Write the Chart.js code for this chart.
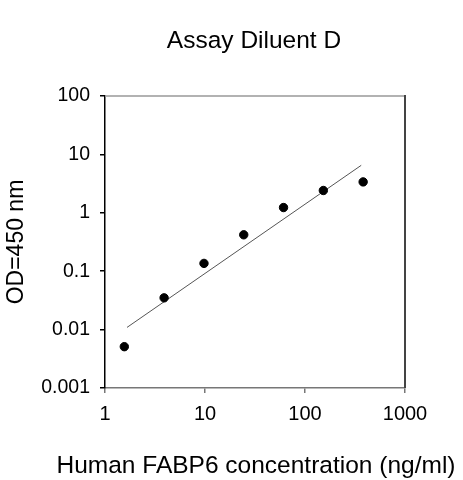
<!DOCTYPE html>
<html>
<head>
<meta charset="utf-8">
<script src="https://cdn.jsdelivr.net/npm/chart.js@4/dist/chart.umd.min.js"></script>
<style>
  html, body { margin: 0; padding: 0; background: #fff; }
  #wrap { width: 463px; height: 480px; }
</style>
</head>
<body>
<div id="wrap"><canvas id="myChart" width="463" height="480"></canvas></div>
<script>
// standard curve points
const concentrations = [1.56, 3.9, 9.77, 24.4, 61, 152.6, 381.5];
const odValues = [0.0051, 0.035, 0.136, 0.42, 1.23, 2.41, 3.38];

// fitted line end points
const fitX = [1.66, 365];
const fitY = [0.0109, 6.5];

const xTicks = [1, 10, 100, 1000];
const yTicks = [0.001, 0.01, 0.1, 1, 10, 100];

const chartTitle = 'Assay Diluent D';
const xTitle = 'Human FABP6 concentration (ng/ml)';
const yTitle = 'OD=450 nm';

const FONT = '"Liberation Sans", Arial, sans-serif';

// frame on top/right + titles centred on the plot area (title plugin would squeeze/offset them)
const framePlugin = {
    id: 'frame',
    afterDraw(chart) {
        const { ctx, chartArea } = chart;
        const cx = (chartArea.left + chartArea.right) / 2;
        ctx.save();
        ctx.strokeStyle = '#999';
        ctx.lineWidth = 1.5;
        ctx.beginPath();
        ctx.moveTo(chartArea.left, chartArea.top);
        ctx.lineTo(chartArea.right, chartArea.top);
        ctx.stroke();
        ctx.strokeStyle = '#444';
        ctx.lineWidth = 2;
        ctx.beginPath();
        ctx.moveTo(chartArea.right, chartArea.top - 1);
        ctx.lineTo(chartArea.right, chartArea.bottom);
        ctx.stroke();

        ctx.fillStyle = '#000';
        ctx.textAlign = 'center';
        ctx.textBaseline = 'alphabetic';
        ctx.font = '24.5px ' + FONT;
        ctx.fillText(chartTitle, cx - 1, chartArea.top - 48);
        ctx.fillText(xTitle, cx + 1, chartArea.bottom + 85);
        ctx.restore();
    }
};

new Chart(document.getElementById('myChart'), {
    type: 'scatter',
    data: {
        datasets: [{
            data: fitX.map((x, i) => ({ x: x, y: fitY[i] })),
            showLine: true,
            borderColor: '#555',
            borderWidth: 1,
            pointRadius: 0,
            order: 2
        }, {
            data: concentrations.map((x, i) => ({ x: x, y: odValues[i] })),
            backgroundColor: '#000',
            borderColor: '#000',
            pointRadius: 4.2,
            order: 1
        }]
    },
    options: {
        responsive: false,
        animation: false,
        layout: { padding: { left: 0, right: 58, top: 96, bottom: 0 } },
        plugins: {
            legend: { display: false },
            tooltip: { enabled: false },
            title: { display: false }
        },
        scales: {
            x: {
                type: 'logarithmic',
                min: 1,
                max: 1000,
                afterBuildTicks: s => { s.ticks = xTicks.map(v => ({ value: v })); },
                afterFit: s => { s.height = 92; },
                ticks: {
                    color: '#000',
                    font: { family: FONT, size: 20 },
                    padding: 9,
                    maxRotation: 0,
                    callback: v => String(v)
                },
                grid: { drawOnChartArea: false, tickLength: 5, color: '#777', lineWidth: 1.5 },
                border: { color: '#777', width: 1.5 }
            },
            y: {
                type: 'logarithmic',
                min: 0.001,
                max: 100,
                afterBuildTicks: s => { s.ticks = yTicks.map(v => ({ value: v })); },
                afterFit: s => { s.width = 105; },
                ticks: {
                    color: '#000',
                    font: { family: FONT, size: 19.5 },
                    padding: 10,
                    callback: v => String(v)
                },
                grid: { drawOnChartArea: false, tickLength: 5, color: '#000', lineWidth: 1.5 },
                border: { color: '#000', width: 1.5 },
                title: {
                    display: true,
                    text: yTitle,
                    color: '#000',
                    font: { family: FONT, size: 23 },
                    padding: { top: 3, bottom: 0 }
                }
            }
        }
    },
    plugins: [framePlugin]
});
</script>
</body>
</html>
